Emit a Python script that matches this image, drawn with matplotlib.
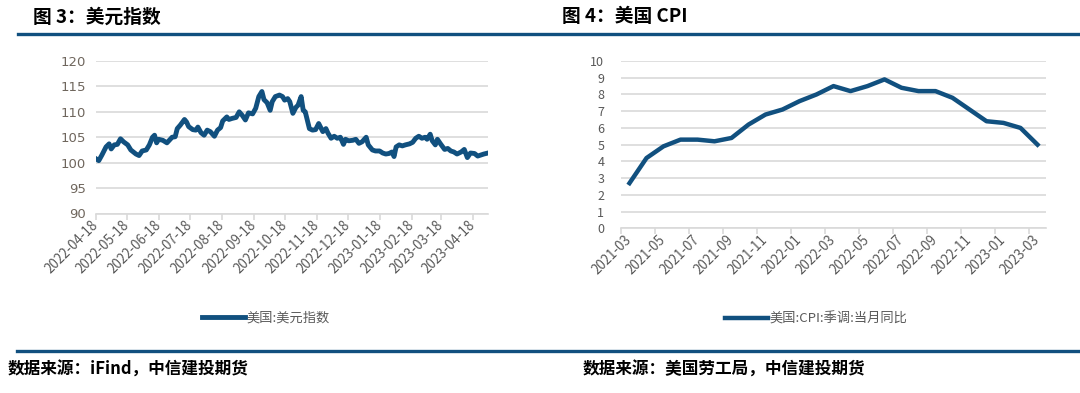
import numpy as np
import pandas as pd
import matplotlib
matplotlib.use('Agg')
import matplotlib.pyplot as plt
import matplotlib.dates as mdates
from matplotlib.lines import Line2D

plt.rcParams['font.family'] = ['Noto Sans CJK SC', 'DejaVu Sans']

# --- data: US dollar index ---
dxy_dates = ['2022-04-18', '2022-04-21', '2022-04-24', '2022-04-28', '2022-05-01', '2022-05-03',
             '2022-05-06', '2022-05-09', '2022-05-12', '2022-05-15', '2022-05-19', '2022-05-22',
             '2022-05-27', '2022-05-30', '2022-06-02', '2022-06-06', '2022-06-09', '2022-06-12',
             '2022-06-14', '2022-06-16', '2022-06-18', '2022-06-22', '2022-06-26', '2022-07-01',
             '2022-07-04', '2022-07-06', '2022-07-09', '2022-07-13', '2022-07-15', '2022-07-17',
             '2022-07-21', '2022-07-24', '2022-07-26', '2022-07-29', '2022-08-01', '2022-08-04',
             '2022-08-07', '2022-08-11', '2022-08-14', '2022-08-17', '2022-08-19', '2022-08-23',
             '2022-08-25', '2022-08-28', '2022-09-01', '2022-09-04', '2022-09-07', '2022-09-10',
             '2022-09-13', '2022-09-17', '2022-09-20', '2022-09-23', '2022-09-26', '2022-09-28',
             '2022-10-01', '2022-10-04', '2022-10-06', '2022-10-09', '2022-10-13', '2022-10-16',
             '2022-10-18', '2022-10-21', '2022-10-23', '2022-10-26', '2022-10-29', '2022-10-31',
             '2022-11-03', '2022-11-05', '2022-11-07', '2022-11-11', '2022-11-14', '2022-11-17',
             '2022-11-20', '2022-11-24', '2022-11-27', '2022-11-29', '2022-12-02', '2022-12-05',
             '2022-12-08', '2022-12-11', '2022-12-14', '2022-12-16', '2022-12-19', '2022-12-23',
             '2022-12-26', '2022-12-29', '2023-01-01', '2023-01-05', '2023-01-07', '2023-01-11',
             '2023-01-14', '2023-01-18', '2023-01-21', '2023-01-24', '2023-01-27', '2023-01-30',
             '2023-02-01', '2023-02-03', '2023-02-06', '2023-02-09', '2023-02-12', '2023-02-16',
             '2023-02-19', '2023-02-22', '2023-02-25', '2023-02-28', '2023-03-03', '2023-03-05',
             '2023-03-08', '2023-03-10', '2023-03-13', '2023-03-15', '2023-03-18', '2023-03-22',
             '2023-03-25', '2023-03-28', '2023-03-31', '2023-04-03', '2023-04-07', '2023-04-10',
             '2023-04-13', '2023-04-16', '2023-04-20', '2023-04-23', '2023-04-26', '2023-04-29',
             '2023-05-03']
dxy_values = [100.8, 100.4, 101.5, 103.1, 103.7, 102.7,
              103.5, 103.6, 104.7, 104.1, 103.5, 102.5,
              101.7, 101.4, 102.3, 102.5, 103.5, 105.0,
              105.4, 103.9, 104.6, 104.4, 103.9, 105.0,
              105.1, 106.7, 107.4, 108.5, 108.0, 107.1,
              106.5, 106.4, 107.0, 105.9, 105.4, 106.4,
              106.1, 105.2, 106.4, 106.9, 108.2, 109.0,
              108.5, 108.7, 108.9, 110.0, 109.3, 108.4,
              109.8, 109.6, 110.7, 113.0, 114.0, 112.4,
              111.8, 110.3, 112.0, 113.0, 113.3, 113.0,
              112.3, 112.6, 112.0, 109.7, 110.9, 111.3,
              113.0, 110.3, 110.0, 106.7, 106.4, 106.5,
              107.7, 106.1, 106.7, 105.8, 104.8, 105.2,
              104.8, 105.0, 103.6, 104.6, 104.3, 104.4,
              104.6, 103.8, 104.1, 105.0, 103.5, 102.5,
              102.3, 102.3, 101.9, 101.7, 101.8, 102.1,
              101.2, 103.1, 103.5, 103.3, 103.5, 103.7,
              104.0, 104.8, 105.2, 104.8, 105.0, 104.6,
              105.6, 104.3, 103.5, 104.6, 103.7, 102.6,
              102.8, 102.3, 102.1, 101.7, 102.1, 102.6,
              101.0, 101.9, 101.8, 101.3, 101.5, 101.7,
              101.9]
dxy_ticks = ['2022-04-18', '2022-05-18', '2022-06-18', '2022-07-18', '2022-08-18', '2022-09-18',
             '2022-10-18', '2022-11-18', '2022-12-18', '2023-01-18', '2023-02-18', '2023-03-18',
             '2023-04-18']

# --- data: US CPI, seasonally adjusted, YoY ---
cpi_months = ['2021-03', '2021-04', '2021-05', '2021-06', '2021-07', '2021-08', '2021-09',
              '2021-10', '2021-11', '2021-12', '2022-01', '2022-02', '2022-03', '2022-04',
              '2022-05', '2022-06', '2022-07', '2022-08', '2022-09', '2022-10', '2022-11',
              '2022-12', '2023-01', '2023-02', '2023-03']
cpi_values = [2.7, 4.2, 4.9, 5.3, 5.3, 5.2, 5.4, 6.2, 6.8, 7.1, 7.6, 8.0, 8.5, 8.2,
              8.5, 8.9, 8.4, 8.2, 8.2, 7.8, 7.1, 6.4, 6.3, 6.0, 5.0]

BLUE = '#11507f'
GRID = '#d9d9d9'
TXT = '#595959'

fig = plt.figure(figsize=(10.8, 3.93), dpi=100)

# titles and rules
fig.text(33 / 1080, 1 - 17 / 393, '图 3：美元指数', fontsize=13.5, fontweight='bold', va='center', ha='left')
fig.text(562 / 1080, 1 - 17 / 393, '图 4：美国 CPI', fontsize=13.5, fontweight='bold', va='center', ha='left')
fig.add_artist(Line2D([18 / 1080, 1], [1 - 34 / 393] * 2, transform=fig.transFigure, color=BLUE, lw=2.4))
fig.add_artist(Line2D([17 / 1080, 1], [1 - 351 / 393] * 2, transform=fig.transFigure, color=BLUE, lw=2.4))
fig.text(8 / 1080, 1 - 370 / 393, '数据来源：iFind，中信建投期货', fontsize=12, fontweight='bold',
         fontstyle='italic', va='center', ha='left')
fig.text(583 / 1080, 1 - 370 / 393, '数据来源：美国劳工局，中信建投期货', fontsize=12, fontweight='bold',
         fontstyle='italic', va='center', ha='left')


def style_axes(ax):
    for s in ['top', 'right', 'left']:
        ax.spines[s].set_visible(False)
    ax.spines['bottom'].set_color(GRID)
    ax.spines['bottom'].set_linewidth(1.2)
    ax.yaxis.grid(True, color=GRID, lw=1.2)
    ax.set_axisbelow(True)
    ax.tick_params(axis='y', length=0, labelsize=9, labelcolor=TXT)
    ax.tick_params(axis='x', which='both', color=GRID, width=1.2, labelsize=9.6, labelcolor=TXT)
    for lab in ax.get_xticklabels():
        lab.set_rotation(45)
        lab.set_ha('right')
        lab.set_va('center')
        lab.set_rotation_mode('anchor')


# --- left: dollar index ---
ax1 = fig.add_axes([95.7 / 1080, 1 - 213.5 / 393, (488 - 95.7) / 1080, (213.5 - 61) / 393])
d = pd.to_datetime(dxy_dates)
ax1.plot(d, dxy_values, color=BLUE, lw=3.5, solid_joinstyle='round', label='美国:美元指数')
ax1.set_ylim(90, 120)
ax1.set_yticks(np.arange(90, 121, 5))
ax1.set_xlim(pd.Timestamp('2022-04-18'), pd.Timestamp('2023-05-03'))
ax1.set_xticks(pd.to_datetime(dxy_ticks))
ax1.xaxis.set_major_formatter(mdates.DateFormatter('%Y-%m-%d'))
style_axes(ax1)
ax1.tick_params(axis='x', length=4, pad=3)
ax1.tick_params(axis='y', pad=7, labelsize=9.5, labelcolor='#6f665d')
for lab in ax1.get_yticklabels():
    lab.set_family('DejaVu Sans')
ax1.legend(loc='center', bbox_to_anchor=(266 / 1080, 1 - 318 / 393), bbox_transform=fig.transFigure,
           frameon=False, fontsize=9.5, labelcolor=TXT, handlelength=3.3, handletextpad=0.1)

# --- right: CPI ---
ax2 = fig.add_axes([621 / 1080, 1 - 228.3 / 393, 425 / 1080, (228.3 - 61) / 393])
x = np.arange(len(cpi_months))
ax2.plot(x, cpi_values, color=BLUE, lw=3.2, solid_joinstyle='round', label='美国:CPI:季调:当月同比')
ax2.set_ylim(0, 10)
ax2.set_yticks(np.arange(0, 11, 1))
ax2.set_xlim(-0.5, len(cpi_months) - 0.5)
ax2.set_xticks(x[::2])
ax2.set_xticklabels(cpi_months[::2])
ax2.set_xticks(x[::2] - 0.5, minor=True)
style_axes(ax2)
ax2.tick_params(axis='x', which='major', length=0, pad=7)
ax2.tick_params(axis='x', which='minor', length=4)
ax2.tick_params(axis='y', pad=12)
ax2.legend(loc='center', bbox_to_anchor=(816 / 1080, 1 - 319 / 393), bbox_transform=fig.transFigure,
           frameon=False, fontsize=9.5, labelcolor=TXT, handlelength=3.3, handletextpad=0.1)

fig.savefig('out.png', dpi=100)
